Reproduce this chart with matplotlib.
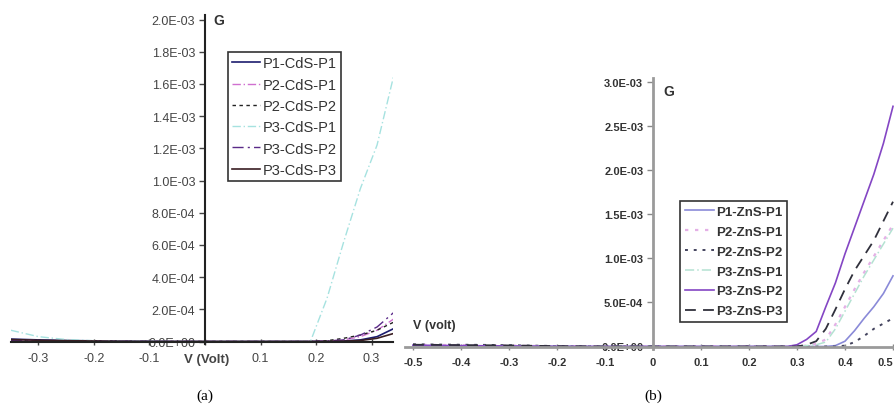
import matplotlib
matplotlib.use("Agg")
import matplotlib.pyplot as plt

plt.rcParams["font.family"] = ["Liberation Sans", "DejaVu Sans"]

W, H = 894, 406
G_SCALE = 1e-3  # values below are in units of 1e-3

# ---------------- panel (a): CdS ----------------
V_a = [-0.35, -0.30, -0.25, -0.20, -0.15, -0.10, -0.05, 0.00, 0.05, 0.10, 0.15,
       0.19, 0.22, 0.25, 0.28, 0.31, 0.34]
a_labels = ["P1-CdS-P1", "P2-CdS-P1", "P2-CdS-P2", "P3-CdS-P1", "P3-CdS-P2", "P3-CdS-P3"]
a_P1_CdS_P1 = [0.015, 0.010, 0.006, 0.004, 0.002, 0.001, 0.0, 0.0, 0.0, 0.0, 0.0,
               0.0, 0.0, 0.003, 0.01, 0.03, 0.08]
a_P2_CdS_P1 = [0.010, 0.006, 0.004, 0.002, 0.001, 0.0, 0.0, 0.0, 0.0, 0.0, 0.0,
               0.0, 0.002, 0.01, 0.03, 0.07, 0.14]
a_P2_CdS_P2 = [0.005, 0.003, 0.002, 0.001, 0.0, 0.0, 0.0, 0.0, 0.0, 0.0, 0.0,
               0.0, 0.005, 0.02, 0.04, 0.07, 0.12]
a_P3_CdS_P1 = [0.07, 0.03, 0.012, 0.005, 0.002, 0.001, 0.0, 0.0, 0.0, 0.0, 0.0,
               0.0, 0.27, 0.62, 0.95, 1.22, 1.65]
a_P3_CdS_P2 = [0.008, 0.005, 0.003, 0.002, 0.001, 0.0, 0.0, 0.0, 0.0, 0.0, 0.0,
               0.0, 0.003, 0.01, 0.04, 0.09, 0.18]
a_P3_CdS_P3 = [0.012, 0.008, 0.005, 0.003, 0.001, 0.0, 0.0, 0.0, 0.0, 0.0, 0.0,
               0.0, 0.0, 0.002, 0.006, 0.02, 0.05]
a_xticks = [-0.3, -0.2, -0.1, 0.0, 0.1, 0.2, 0.3]
a_xticklabels = ["-0.3", "-0.2", "-0.1", "", "0.1", "0.2", "0.3"]
a_yticks = [0.0, 0.2, 0.4, 0.6, 0.8, 1.0, 1.2, 1.4, 1.6, 1.8, 2.0]
a_yticklabels = ["0.0E+00", "2.0E-04", "4.0E-04", "6.0E-04", "8.0E-04", "1.0E-03",
                 "1.2E-03", "1.4E-03", "1.6E-03", "1.8E-03", "2.0E-03"]

# ---------------- panel (b): ZnS ----------------
V_b = [-0.50, -0.45, -0.40, -0.35, -0.30, -0.25, -0.20, -0.10, 0.00, 0.10, 0.20,
       0.25, 0.28, 0.30, 0.32, 0.34, 0.36, 0.38, 0.40, 0.42, 0.44, 0.46, 0.48, 0.50]
b_labels = ["P1-ZnS-P1", "P2-ZnS-P1", "P2-ZnS-P2", "P3-ZnS-P1", "P3-ZnS-P2", "P3-ZnS-P3"]
b_P1_ZnS_P1 = [0.01, 0.008, 0.006, 0.004, 0.003, 0.002, 0.001, 0.0, 0.0, 0.0, 0.0,
               0.0, 0.0, 0.0, 0.0, 0.0, 0.0, 0.01, 0.06, 0.18, 0.32, 0.45, 0.60, 0.80]
b_P2_ZnS_P1 = [0.02, 0.018, 0.015, 0.012, 0.01, 0.006, 0.003, 0.0, 0.0, 0.0, 0.0,
               0.0, 0.0, 0.0, 0.01, 0.03, 0.08, 0.25, 0.45, 0.65, 0.84, 1.02, 1.20, 1.38]
b_P2_ZnS_P2 = [0.025, 0.022, 0.02, 0.018, 0.015, 0.01, 0.005, 0.0, 0.0, 0.0, 0.0,
               0.0, 0.0, 0.0, 0.0, 0.0, 0.0, 0.0, 0.01, 0.05, 0.12, 0.20, 0.26, 0.32]
b_P3_ZnS_P1 = [0.01, 0.008, 0.006, 0.004, 0.003, 0.002, 0.001, 0.0, 0.0, 0.0, 0.0,
               0.0, 0.0, 0.0, 0.01, 0.02, 0.05, 0.20, 0.40, 0.60, 0.80, 0.98, 1.16, 1.34]
b_P3_ZnS_P2 = [0.015, 0.012, 0.01, 0.008, 0.006, 0.004, 0.002, 0.0, 0.0, 0.0, 0.0,
               0.0, 0.0, 0.02, 0.08, 0.17, 0.45, 0.72, 1.05, 1.35, 1.65, 1.95, 2.30, 2.72]
b_P3_ZnS_P3 = [0.02, 0.018, 0.016, 0.014, 0.012, 0.008, 0.004, 0.0, 0.0, 0.0, 0.0,
               0.0, 0.0, 0.0, 0.02, 0.06, 0.20, 0.42, 0.65, 0.86, 1.03, 1.20, 1.42, 1.64]
b_xticks = [-0.5, -0.4, -0.3, -0.2, -0.1, 0.0, 0.1, 0.2, 0.3, 0.4, 0.5]
b_xticklabels = ["-0.5", "-0.4", "-0.3", "-0.2", "-0.1", "0", "0.1", "0.2", "0.3", "0.4", "0.5"]
b_yticks = [0.0, 0.5, 1.0, 1.5, 2.0, 2.5, 3.0]
b_yticklabels = ["0.0E+00", "5.0E-04", "1.0E-03", "1.5E-03", "2.0E-03", "2.5E-03", "3.0E-03"]

fig = plt.figure(figsize=(W / 100, H / 100), dpi=100)
fig.patch.set_facecolor("white")


def rect(l, r, t, b):
    return [l / W, 1 - b / H, (r - l) / W, (b - t) / H]


def fx(x):
    return x / W


def fy(y):
    return 1 - y / H


def setup(ax, x0px, pxu_x, y0px, pxu_y, l, r, t, b):
    ax.set_xlim((l - x0px) / pxu_x, (r - x0px) / pxu_x)
    ax.set_ylim((y0px - b) / pxu_y * G_SCALE, (y0px - t) / pxu_y * G_SCALE)
    ax.spines["left"].set_position(("data", 0))
    ax.spines["bottom"].set_position(("data", 0))
    ax.spines["top"].set_visible(False)
    ax.spines["right"].set_visible(False)
    ax.patch.set_alpha(0)


# ---- panel (a) ----
la, ra, ta, ba = 11, 393, 16, 345
axa = fig.add_axes(rect(la, ra, ta, ba))
setup(axa, 205, 555, 342.5, 161, la, ra, ta, ba)
a_series = [a_P1_CdS_P1, a_P2_CdS_P1, a_P2_CdS_P2, a_P3_CdS_P1, a_P3_CdS_P2, a_P3_CdS_P3]
a_styles = [
    dict(color="#1c1c6e", ls="-", lw=1.2),
    dict(color="#d070d0", ls=(0, (6, 2, 1, 2)), lw=1.0),
    dict(color="#222222", ls=(0, (2.5, 2.5)), lw=1.0),
    dict(color="#a6e2e0", ls=(0, (6, 2, 1, 2)), lw=1.0),
    dict(color="#5a2a88", ls=(0, (8, 3, 1.5, 3)), lw=1.0),
    dict(color="#3a1e22", ls="-", lw=1.2),
]
for ys, lab, st in zip(a_series, a_labels, a_styles):
    axa.plot(V_a, [v * G_SCALE for v in ys], label=lab, **st)
for s in ("left", "bottom"):
    axa.spines[s].set_color("#222222")
    axa.spines[s].set_linewidth(1.5)
axa.set_xticks(a_xticks)
axa.set_xticklabels(a_xticklabels)
axa.set_yticks([v * G_SCALE for v in a_yticks])
axa.set_yticklabels(a_yticklabels)
axa.tick_params(axis="x", direction="inout", length=5, width=1, pad=5,
                labelsize=9, labelcolor="#444444", color="#444444")
axa.tick_params(axis="y", direction="out", length=4, width=1, pad=3,
                labelsize=9, labelcolor="#444444", color="#444444")
lga = axa.legend(loc="upper left", bbox_to_anchor=(fx(228), fy(53)),
                 bbox_transform=fig.transFigure, borderaxespad=0, fancybox=False,
                 framealpha=1, edgecolor="#333333", prop=dict(size=10.5),
                 handlelength=1.9, handletextpad=0.2, labelspacing=0.5,
                 borderpad=0.3)
lga.get_frame().set_linewidth(1.2)
for t in lga.get_texts():
    t.set_color("#333333")
fig.text(fx(213), fy(21), "G", fontsize=10, fontweight="bold", color="#333333",
         ha="left", va="center")
fig.text(fx(207), fy(360), "V (Volt)", fontsize=9.5, fontweight="bold",
         color="#444444", ha="center", va="center")
fig.text(fx(205), fy(396), "(a)", fontsize=11, family="Liberation Serif",
         ha="center", va="center")

# ---- panel (b) ----
fig.add_artist(plt.Rectangle((fx(396), 0), 1 - fx(396), 1, transform=fig.transFigure,
                             facecolor="white", edgecolor="none", zorder=1))
lb, rb, tb, bb = 405, 894, 79, 350
axb = fig.add_axes(rect(lb, rb, tb, bb))
axb.set_zorder(2)
setup(axb, 653, 480, 347.5, 88.3, lb, rb, tb, bb)
b_series = [b_P1_ZnS_P1, b_P2_ZnS_P1, b_P2_ZnS_P2, b_P3_ZnS_P1, b_P3_ZnS_P2, b_P3_ZnS_P3]
b_styles = [
    dict(color="#8a8ad8", ls="-", lw=1.2),
    dict(color="#e4b0e6", ls=(0, (1.5, 3)), lw=1.6),
    dict(color="#44445e", ls=(0, (1.5, 3)), lw=1.4),
    dict(color="#b4e2d2", ls=(0, (6, 2, 1, 2)), lw=1.1),
    dict(color="#8446c4", ls="-", lw=1.2),
    dict(color="#30303c", ls=(0, (6, 4)), lw=1.3),
]
for ys, lab, st in zip(b_series, b_labels, b_styles):
    axb.plot(V_b, [v * G_SCALE for v in ys], label=lab, **st)
for s in ("left", "bottom"):
    axb.spines[s].set_color("#9a9a9a")
    axb.spines[s].set_linewidth(2.0)
axb.set_xticks(b_xticks)
axb.set_xticklabels(b_xticklabels)
axb.set_yticks([v * G_SCALE for v in b_yticks])
axb.set_yticklabels(b_yticklabels)
axb.tick_params(axis="x", direction="inout", length=5, width=1, pad=5,
                labelsize=8, labelcolor="#333333", color="#888888")
axb.tick_params(axis="y", direction="out", length=4, width=1, pad=3,
                labelsize=8, labelcolor="#333333", color="#888888")
for t in axb.get_xticklabels() + axb.get_yticklabels():
    t.set_fontweight("bold")
axb.get_xticklabels()[-1].set_horizontalalignment("right")
lgb = axb.legend(loc="upper left", bbox_to_anchor=(fx(680), fy(202)),
                 bbox_transform=fig.transFigure, borderaxespad=0, fancybox=False,
                 framealpha=1, edgecolor="#333333",
                 prop=dict(size=9.5, weight="bold"),
                 handlelength=2.2, handletextpad=0.2, labelspacing=0.58,
                 borderpad=0.35)
lgb.get_frame().set_linewidth(1.2)
for t in lgb.get_texts():
    t.set_color("#333333")
fig.text(fx(663), fy(92), "G", fontsize=10, fontweight="bold", color="#333333",
         ha="left", va="center")
fig.text(fx(413), fy(326), "V (volt)", fontsize=9, fontweight="bold",
         color="#333333", ha="left", va="center")
fig.text(fx(653), fy(396), "(b)", fontsize=11, family="Liberation Serif",
         ha="center", va="center")

fig.savefig("out.png", dpi=100, facecolor="white")
